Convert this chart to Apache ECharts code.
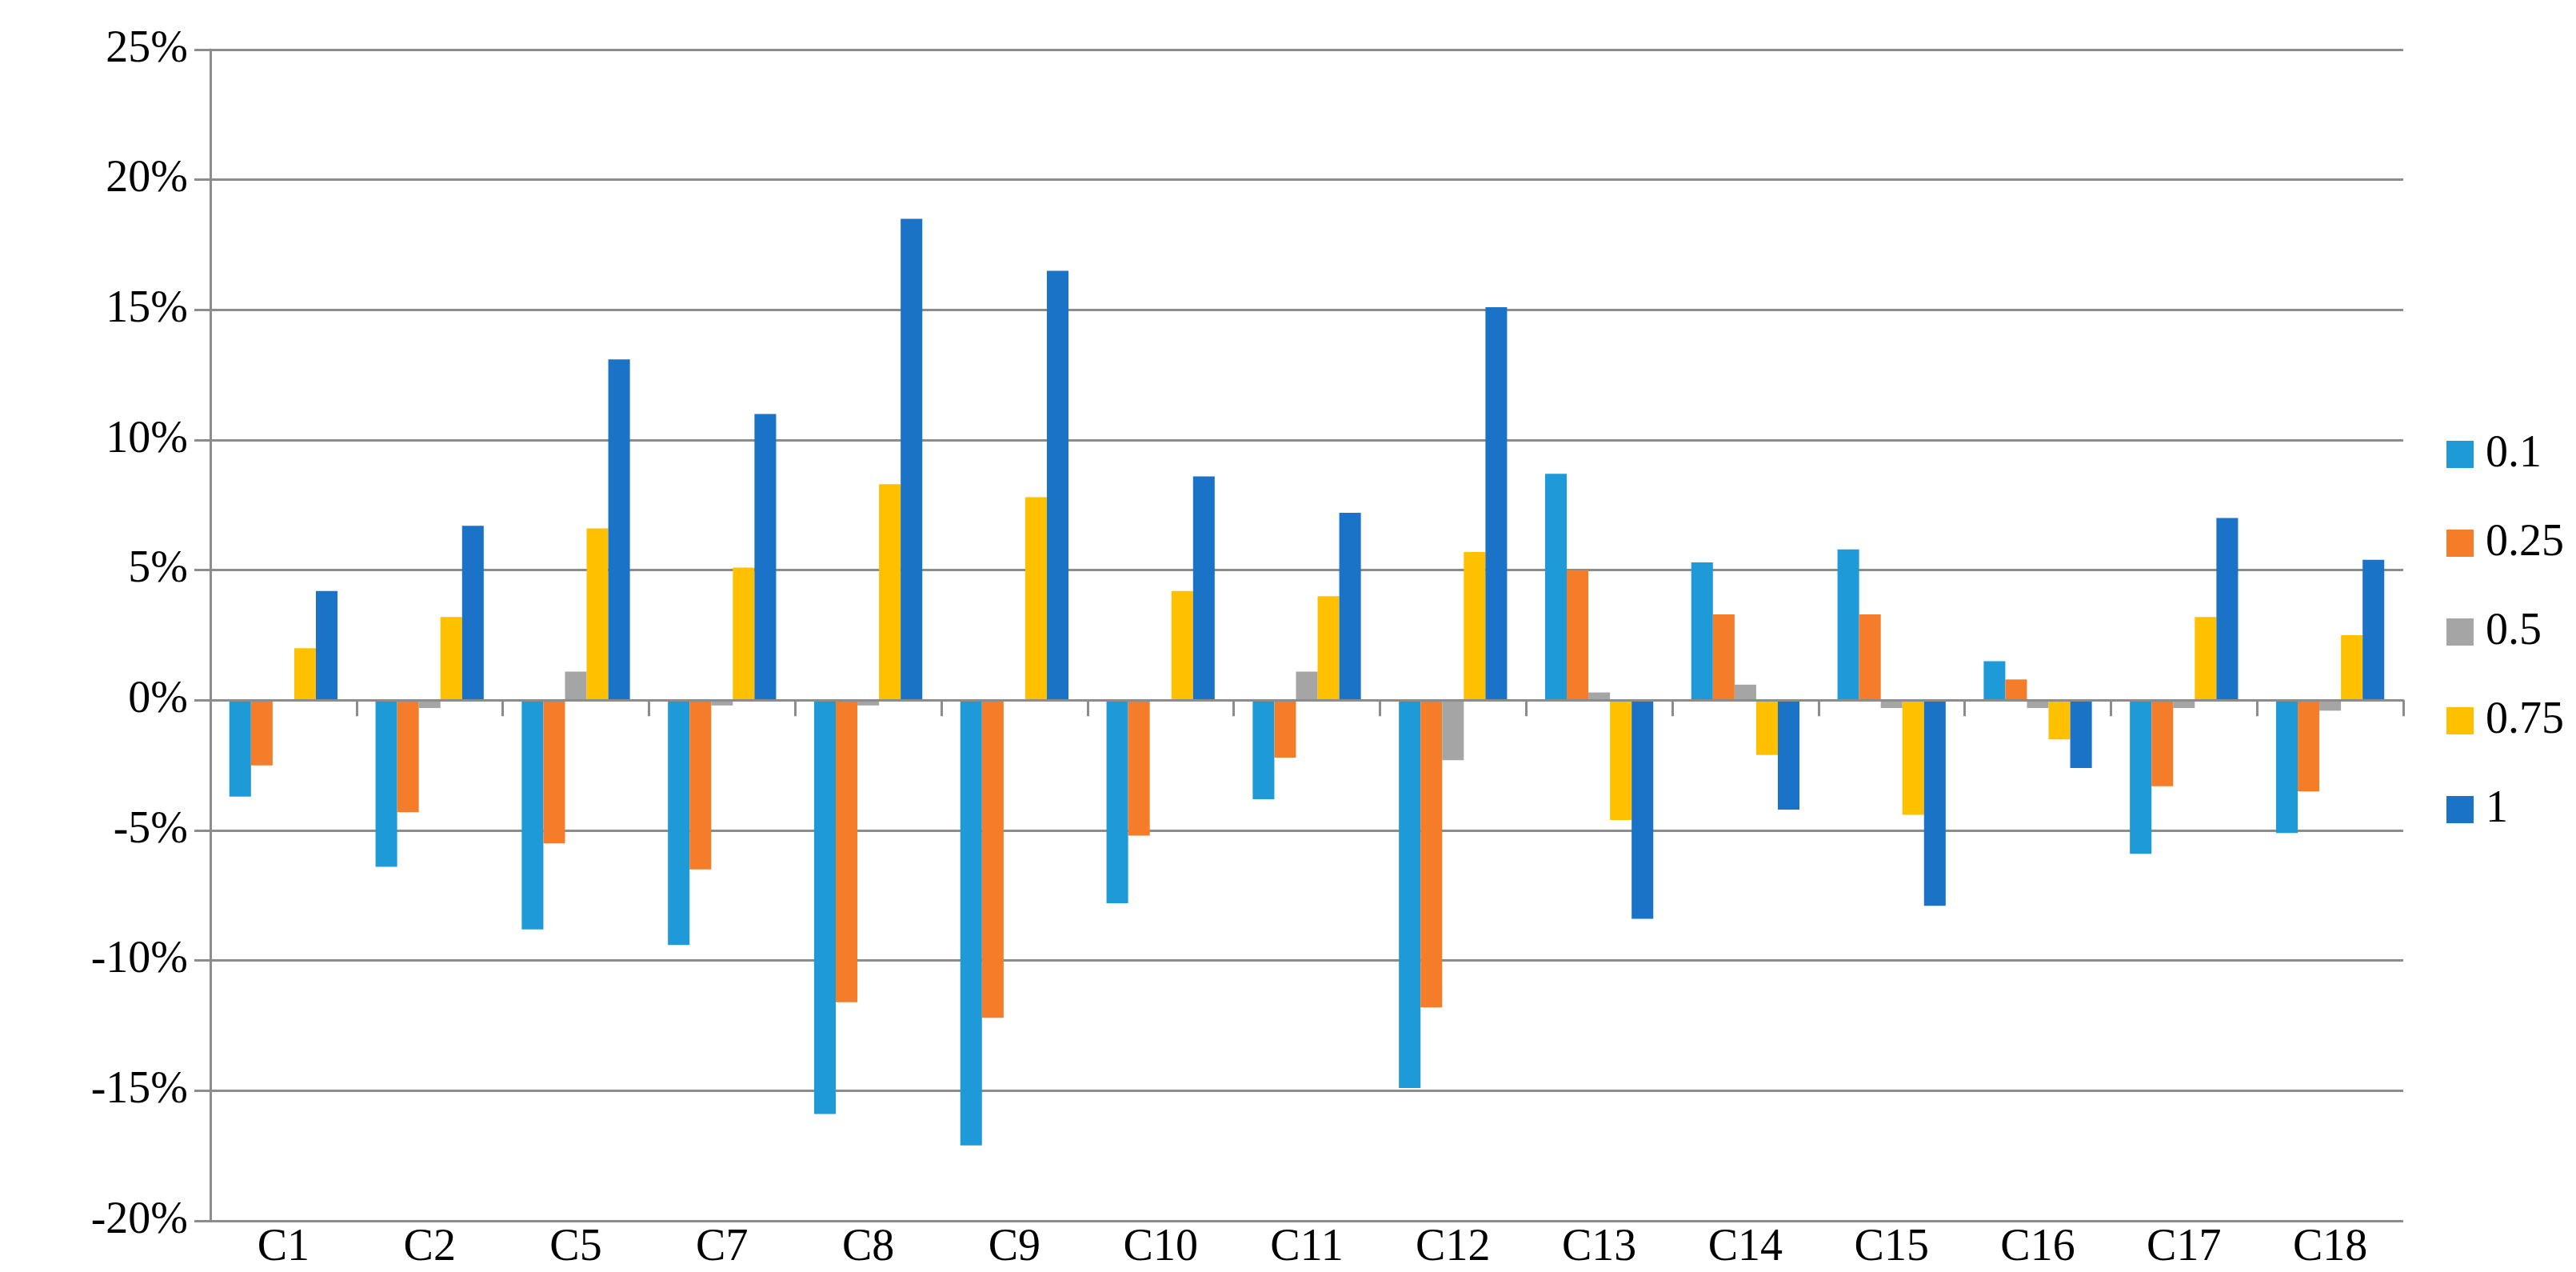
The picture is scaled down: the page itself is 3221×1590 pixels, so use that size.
<!DOCTYPE html>
<html>
<head>
<meta charset="utf-8">
<script src="https://cdn.jsdelivr.net/npm/echarts@6/dist/echarts.min.js"></script>
<style>html,body{margin:0;padding:0;background:#fff}#main{width:3221px;height:1590px}</style>
</head>
<body>
<div id="main"></div>
<script>
var categories = ['C1', 'C2', 'C5', 'C7', 'C8', 'C9', 'C10', 'C11', 'C12', 'C13', 'C14', 'C15', 'C16', 'C17', 'C18'];
var seriesNames = ['0.1', '0.25', '0.5', '0.75', '1'];
var v01  = [-3.7, -6.4, -8.8, -9.4, -15.9, -17.1, -7.8, -3.8, -14.9, 8.7, 5.3, 5.8, 1.5, -5.9, -5.1];
var v025 = [-2.5, -4.3, -5.5, -6.5, -11.6, -12.2, -5.2, -2.2, -11.8, 5.0, 3.3, 3.3, 0.8, -3.3, -3.5];
var v05  = [0.0, -0.3, 1.1, -0.2, -0.2, 0.0, 0.0, 1.1, -2.3, 0.3, 0.6, -0.3, -0.3, -0.3, -0.4];
var v075 = [2.0, 3.2, 6.6, 5.1, 8.3, 7.8, 4.2, 4.0, 5.7, -4.6, -2.1, -4.4, -1.5, 3.2, 2.5];
var v1   = [4.2, 6.7, 13.1, 11.0, 18.5, 16.5, 8.6, 7.2, 15.1, -8.4, -4.2, -7.9, -2.6, 7.0, 5.4];
var colors = ['#1f9ad8', '#f57c29', '#a5a5a5', '#ffc000', '#1a73c7'];

var font = 'Liberation Serif';
var allData = [v01, v025, v05, v075, v1];
var series = seriesNames.map(function (n, i) {
    return {
        name: n,
        type: 'bar',
        data: allData[i],
        barGap: '0%',
        barCategoryGap: '26%',
        z: 1,
        itemStyle: {color: colors[i]}
    };
});

var chart = echarts.init(document.getElementById('main'));
chart.setOption({
    animation: false,
    color: colors,
    textStyle: {fontFamily: font},
    grid: {left: 263, right: 216, top: 62, bottom: 64},
    legend: {
        orient: 'vertical',
        right: 10,
        top: 535,
        itemWidth: 34,
        itemHeight: 34,
        itemGap: 55,
        icon: 'rect',
        textStyle: {fontFamily: font, fontSize: 56, color: '#000', padding: [0, 0, 0, 10]},
        data: seriesNames
    },
    xAxis: {
        type: 'category',
        data: categories,
        z: 5,
        axisLine: {onZero: true, onZeroAxisIndex: 0, lineStyle: {color: '#8c8c8c', width: 3}},
        axisTick: {show: true, length: 20, lineStyle: {color: '#8c8c8c', width: 3}},
        axisLabel: {fontFamily: font, fontSize: 56, color: '#000', margin: 6}
    },
    yAxis: {
        type: 'value',
        min: -20,
        max: 25,
        interval: 5,
        axisLine: {show: true, lineStyle: {color: '#8c8c8c', width: 3}},
        axisTick: {show: true, length: 20, lineStyle: {color: '#8c8c8c', width: 3}},
        splitLine: {lineStyle: {color: '#8c8c8c', width: 3}},
        axisLabel: {fontFamily: font, fontSize: 56, color: '#000', margin: 28, formatter: '{value}%'}
    },
    series: series
});
</script>
</body>
</html>
